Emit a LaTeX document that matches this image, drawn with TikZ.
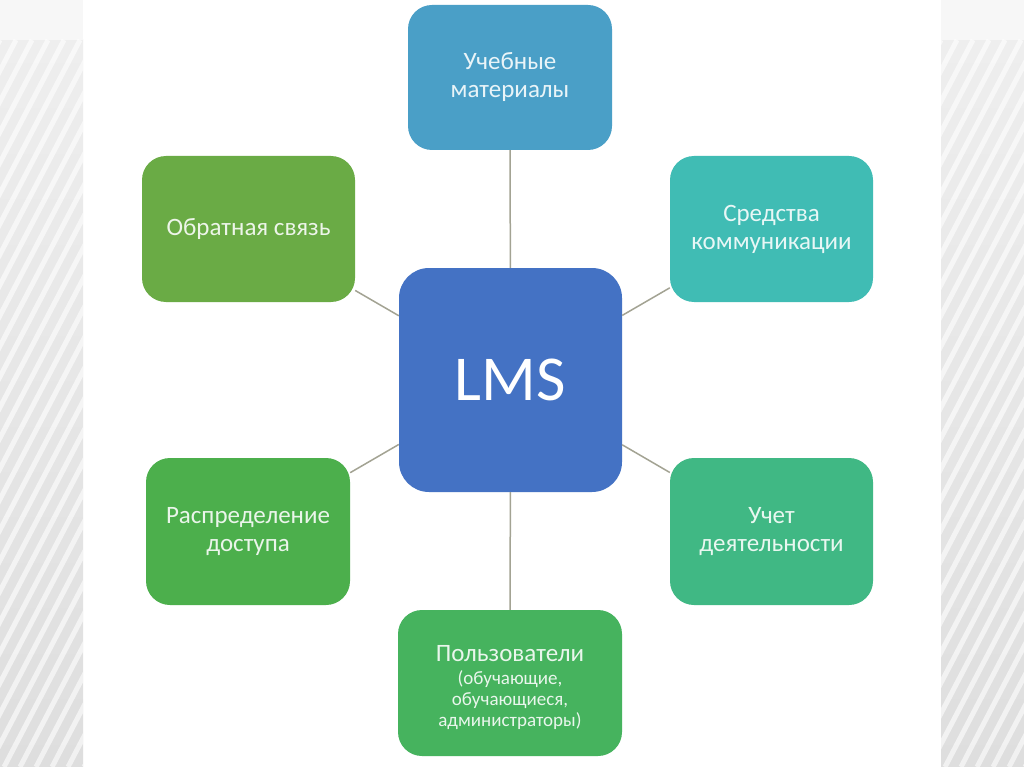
\documentclass[tikz,border=0pt]{standalone}
\usepackage{fontspec}
\setmainfont{Carlito}
\definecolor{cMat}{HTML}{4A9FC7}
\definecolor{cComm}{HTML}{40BCB4}
\definecolor{cFb}{HTML}{6AAB45}
\definecolor{cLms}{HTML}{4472C4}
\definecolor{cDist}{HTML}{4CAF4C}
\definecolor{cAct}{HTML}{40B884}
\definecolor{cUsr}{HTML}{46B35E}
\definecolor{cLine}{HTML}{A3A393}
\definecolor{bandTop}{HTML}{EEEEEE}
\definecolor{bandBot}{HTML}{DEDEDE}
\newcommand{\smalltxt}{\fontsize{19}{21}\selectfont}
\tikzset{
  box/.style={rounded corners=24pt, inner sep=0pt, align=center,
    font=\fontsize{25}{28}\selectfont},
  link/.style={draw=cLine, line width=1.5pt},
}
\begin{document}
\begin{tikzpicture}[x=1pt,y=-1pt]
\useasboundingbox (0,0) rectangle (1024,767);
\fill[white] (0,0) rectangle (1024,767);
% side bands
\foreach \xa/\xb in {0/83,941/1024}{
  \shade[top color=bandTop, bottom color=bandBot] (\xa,40) rectangle (\xb,767);
  \fill[white!97!black] (\xa,0) rectangle (\xb,40);
  \begin{scope}
    \clip (\xa,40) rectangle (\xb,767);
    \foreach \k in {-20,...,80}{
      \draw[white, line width=5pt, opacity=0.6] (\xa+\k*16-380,767) -- (\xa+\k*16,40);
    }
  \end{scope}
}
% nodes
\node[box, fill=cMat, text=cMat!12!white, minimum width=204pt, minimum height=145pt] (mat) at (510,77.5) {Учебные\\материалы};
\node[box, fill=cFb, text=cFb!12!white, minimum width=213pt, minimum height=146pt] (fb) at (248.5,229) {Обратная связь};
\node[box, fill=cComm, text=cComm!12!white, minimum width=203pt, minimum height=146pt] (comm) at (771.5,229) {Средства\\коммуникации};
\node[box, rounded corners=30pt, fill=cLms, text=white, minimum width=223pt, minimum height=224pt, font=\fontsize{64}{70}\selectfont] (lms) at (510.5,380) {LMS};
\node[box, fill=cDist, text=cDist!12!white, minimum width=204pt, minimum height=147pt] (dist) at (248,531.5) {Распределение\\доступа};
\node[box, fill=cAct, text=cAct!12!white, minimum width=203pt, minimum height=147pt] (act) at (771.5,531.5) {Учет\\деятельности};
\node[box, fill=cUsr, text=cUsr!12!white, minimum width=224pt, minimum height=146pt] (usr) at (510,683) {\rule{0pt}{26pt}Пользователи\\[-5pt]\smalltxt (обучающие,\\[-7pt]\smalltxt обучающиеся,\\[-7pt]\smalltxt администраторы)};
% connectors
\draw[link] (lms) -- (mat);
\draw[link] (lms) -- (fb);
\draw[link] (lms) -- (comm);
\draw[link] (lms) -- (dist);
\draw[link] (lms) -- (act);
\draw[link] (lms) -- (usr);
\end{tikzpicture}
\end{document}
